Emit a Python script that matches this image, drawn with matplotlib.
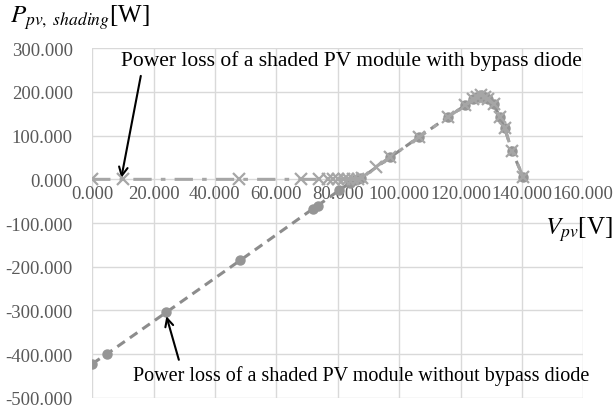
import matplotlib.pyplot as plt
import numpy as np

plt.rcParams['font.family'] = ['Liberation Serif', 'DejaVu Serif']
plt.rcParams['mathtext.fontset'] = 'stix'

## with bypass diode (crosses, dash-dot)
v_bypass = [0, 10, 48, 68, 74, 77, 78.5, 80, 82, 83.5, 85, 86.5, 88, 92.5, 97, 106.5,
            116, 121.5, 124.2, 125.5, 126.7, 128, 129.1, 130.8, 132.8, 134.4, 136.8, 140.4]
p_bypass = [0, 0, 0, 0, 0, 0, 0, 0, 0, 0, 0, 1, 3, 29, 50, 97,
            143, 169, 184, 189, 192, 189, 184, 172, 143, 117, 64, 6]

## without bypass diode (circles, dashed)
v_nobypass = [0, 4.7, 24.2, 48.3, 72, 73.5, 80.5, 84, 85.5, 86.5, 87.5, 97, 106.5,
              116, 121.5, 124.2, 125.5, 126.7, 128, 129.1, 130.8, 132.8, 134.4, 136.8, 140.4]
p_nobypass = [-422, -400, -304, -185, -67, -60, -25, -8, -2, 0, 2, 50, 97,
              143, 169, 184, 189, 192, 189, 184, 172, 143, 117, 64, 6]

x_ticks = np.arange(0, 161, 20)
y_ticks = np.arange(-500, 301, 100)

fig = plt.figure(figsize=(6.14, 4.10), dpi=100)
ax = fig.add_axes([0.150, 0.027, 0.800, 0.853])

ax.plot(v_nobypass, p_nobypass, linestyle=(0, (3, 2)), color='#8c8c8c', linewidth=2.2,
        marker='o', markersize=6.5, markerfacecolor='#959595', markeredgecolor='#959595', zorder=3)
ax.plot(v_bypass, p_bypass, linestyle=(0, (6, 3, 1.5, 3)), color='#a6a6a6', linewidth=2.2,
        marker='x', markersize=8, markeredgewidth=1.6, markeredgecolor='#a6a6a6', zorder=4)

ax.set_xlim(0, 160)
ax.set_ylim(-500, 300)
ax.set_xticks(x_ticks)
ax.set_yticks(y_ticks)
ax.set_xticklabels([f"{v:.3f}" for v in x_ticks])
ax.set_yticklabels([f"{v:.3f}" for v in y_ticks])
ax.grid(True, color='#d9d9d9', linewidth=1)
ax.set_axisbelow(True)
for s in ax.spines.values():
    s.set_visible(False)
ax.spines['bottom'].set_position(('data', 0))
ax.tick_params(axis='both', length=0, labelsize=13.5, colors='#595959')
ax.tick_params(axis='x', pad=4)
ax.tick_params(axis='y', pad=14)

fig.text(0.016, 0.958, r'$P_{pv,\ shading}$[W]', fontsize=18, ha='left', va='center')
fig.text(0.888, 0.44, r'$V_{pv}$[V]', fontsize=18, ha='left', va='center')

ax.annotate('Power loss of a shaded PV module with bypass diode', xy=(9.5, 3), xytext=(9.3, 272),
            fontsize=15.5, ha='left', va='center',
            arrowprops=dict(arrowstyle='->', color='black', lw=1.5, shrinkA=2, shrinkB=0,
                            relpos=(0.046, 0.0)))
ax.annotate('Power loss of a shaded PV module without bypass diode', xy=(24.2, -313), xytext=(13.3, -448),
            fontsize=14.5, ha='left', va='center',
            arrowprops=dict(arrowstyle='->', color='black', lw=1.5, shrinkA=2, shrinkB=0,
                            relpos=(0.104, 1.0)))

fig.savefig('out.png', dpi=100)
